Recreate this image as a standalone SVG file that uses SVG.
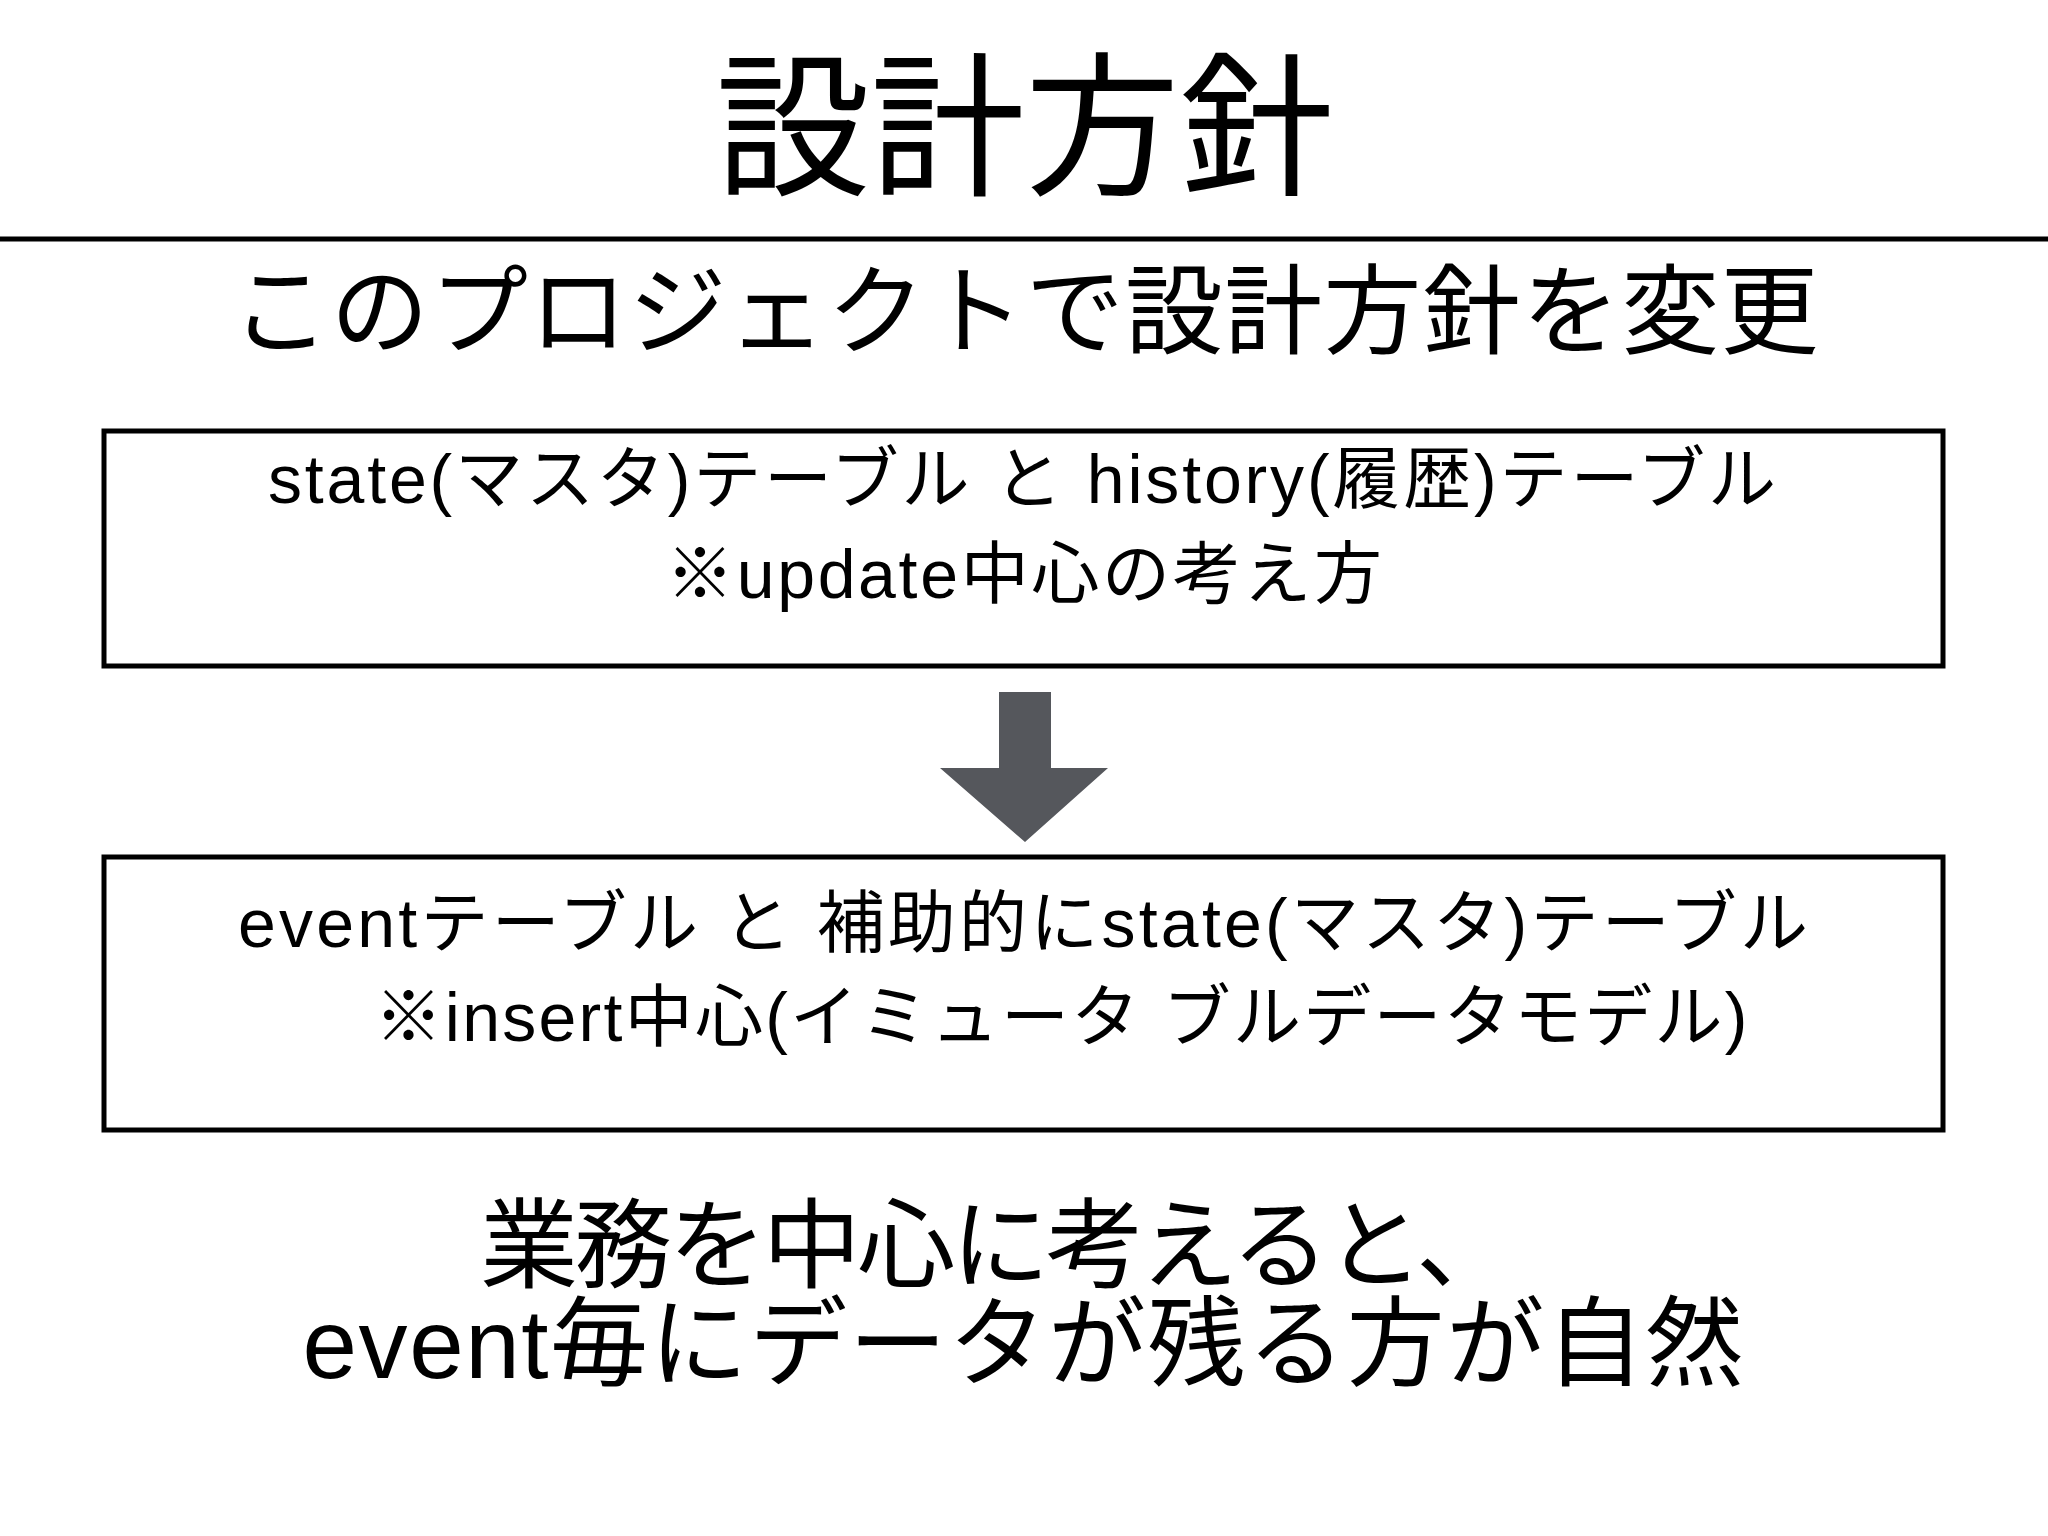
<svg xmlns="http://www.w3.org/2000/svg" width="2048" height="1536" viewBox="0 0 2048 1536">
<style>
text{font-family:"Liberation Sans","Noto Sans CJK JP",sans-serif;fill:#000;text-anchor:middle}
.box{fill:#fff;stroke:#000;stroke-width:5}
.t{font-size:68px}
.big{font-size:98px}
</style>
<rect width="2048" height="1536" fill="#fff"/>
<g id="title"><text x="1025" y="183" font-size="155" textLength="619" lengthAdjust="spacingAndGlyphs">設計方針</text></g>
<line x1="0" y1="239" x2="2048" y2="239" stroke="#000" stroke-width="5"/>
<g id="subtitle"><text class="big" x="1025" y="346" textLength="1587">このプロジェクトで設計方針を変更</text></g>
<g id="box1">
<rect class="box" x="104" y="431" width="1839" height="235"/>
<text class="t" x="1022" y="503" textLength="1508">state(マスタ)テーブル と history(履歴)テーブル</text>
<text class="t" x="1024" y="598" textLength="716">※update中心の考え方</text>
</g>
<g id="connectors">
<path d="M999 692H1051V768H1108L1025 842L940 768H999Z" fill="#55575c"/>
</g>
<g id="box2">
<rect class="box" x="104" y="857" width="1839" height="273"/>
<text class="t" x="1023" y="947" textLength="1570">eventテーブル と 補助的にstate(マスタ)テーブル</text>
<text class="t" x="1061" y="1041" textLength="1373">※insert中心(イミュータ ブルデータモデル)</text>
</g>
<g id="conclusion">
<text class="big" x="997" y="1280" textLength="1034">業務を中心に考えると、</text>
<text class="big" x="1023" y="1378" textLength="1441">event毎にデータが残る方が自然</text>
</g>
</svg>
